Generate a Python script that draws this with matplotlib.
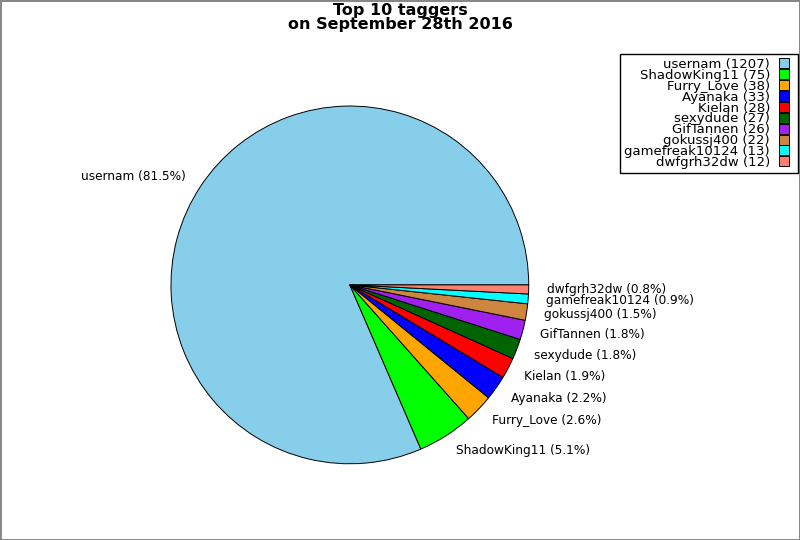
import matplotlib
matplotlib.use("Agg")
import matplotlib.pyplot as plt
from matplotlib.lines import Line2D

# top 10 taggers
names = ["usernam", "ShadowKing11", "Furry_Love", "Ayanaka", "Kielan",
         "sexydude", "GifTannen", "gokussj400", "gamefreak10124", "dwfgrh32dw"]
counts = [1207, 75, 38, 33, 28, 27, 26, 22, 13, 12]
colors = ["skyblue", "lime", "orange", "blue", "red",
          "darkgreen", "#a020f0", "peru", "cyan", "salmon"]

total = sum(counts)
pie_labels = ["%s (%.1f%%)" % (n, 100.0 * c / total) for n, c in zip(names, counts)]
legend_labels = ["%s (%d)" % (n, c) for n, c in zip(names, counts)]

fig = plt.figure(figsize=(8, 5.4), dpi=100)
fig.patch.set_edgecolor("#888888")
fig.patch.set_linewidth(2)

ax = fig.add_axes([0.1578, 0.0579, 0.559, 0.829])
wedges, texts = ax.pie(counts, labels=pie_labels, colors=colors,
                       wedgeprops={"edgecolor": "black", "linewidth": 0.7},
                       textprops={"fontsize": 8.7})
ax.set_aspect("equal")

fig.text(0.5, 0.995, "Top 10 taggers\non September 28th 2016", ha="center", va="top",
         fontsize=11.5, fontweight="bold", linespacing=0.95)

handles = [Line2D([], [], ls="none", marker="s", markersize=7, markerfacecolor=c,
                  markeredgecolor="black", markeredgewidth=0.7) for c in colors]
fig.legend(handles, legend_labels, loc="upper right", bbox_to_anchor=(0.997, 0.9),
           markerfirst=False, fontsize=9.5, labelspacing=-0.16, handlelength=1.4,
           handletextpad=0.4, borderpad=0.3, fancybox=False,
           edgecolor="black", framealpha=1, borderaxespad=0.0)

fig.savefig("out.png", dpi=100)
